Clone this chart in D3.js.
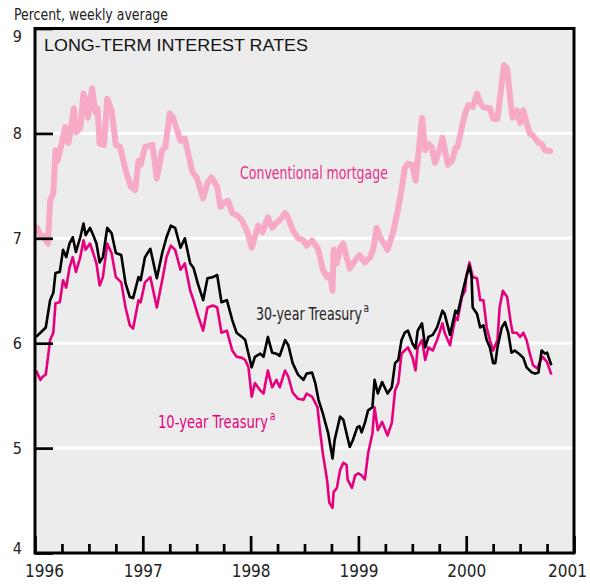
<!DOCTYPE html>
<html>
<head>
<meta charset="utf-8">
<script src="https://cdn.jsdelivr.net/npm/d3@7"></script>
<style>
  body { margin: 0; background: #fff; }
  .narrow { font-family: "Liberation Sans Narrow", "Arial Narrow", "DejaVu Sans Condensed", sans-serif; }
</style>
</head>
<body>
<svg width="590" height="584"></svg>
<script>
  // weekly averages as [year, percent]
  const mortgage = [
    [1996.02, 7.10], [1996.05, 7.03], [1996.08, 7.02], [1996.12, 6.95], [1996.14, 7.36],
    [1996.17, 7.43], [1996.19, 7.84], [1996.21, 7.74], [1996.24, 7.87], [1996.28, 8.06],
    [1996.31, 7.91], [1996.33, 8.03], [1996.36, 8.24], [1996.38, 8.01], [1996.42, 8.05],
    [1996.45, 8.38], [1996.47, 8.31], [1996.49, 8.15], [1996.53, 8.43], [1996.56, 8.20],
    [1996.58, 8.24], [1996.60, 7.90], [1996.64, 7.89], [1996.67, 8.33], [1996.71, 8.22],
    [1996.75, 7.89], [1996.79, 7.87], [1996.84, 7.65], [1996.89, 7.49], [1996.93, 7.46],
    [1996.96, 7.74], [1996.98, 7.70], [1997.02, 7.87], [1997.09, 7.89], [1997.13, 7.57],
    [1997.18, 7.84], [1997.21, 7.87], [1997.22, 7.96], [1997.25, 8.19], [1997.28, 8.15],
    [1997.35, 7.93], [1997.39, 7.95], [1997.46, 7.63], [1997.50, 7.58], [1997.56, 7.38],
    [1997.60, 7.53], [1997.64, 7.58], [1997.69, 7.49], [1997.72, 7.30], [1997.76, 7.34],
    [1997.79, 7.36], [1997.83, 7.24], [1997.87, 7.22], [1997.92, 7.17], [1997.97, 7.06],
    [1998.01, 6.91], [1998.07, 7.12], [1998.11, 7.06], [1998.16, 7.20], [1998.20, 7.10],
    [1998.24, 7.15], [1998.27, 7.17], [1998.32, 7.24], [1998.35, 7.19], [1998.39, 7.08],
    [1998.44, 7.00], [1998.49, 6.98], [1998.52, 6.93], [1998.57, 6.98], [1998.62, 6.91],
    [1998.64, 6.84], [1998.67, 6.70], [1998.71, 6.63], [1998.74, 6.65], [1998.76, 6.50],
    [1998.77, 6.89], [1998.80, 6.76], [1998.83, 6.91], [1998.86, 6.95], [1998.89, 6.82],
    [1998.92, 6.71], [1998.97, 6.79], [1999.01, 6.84], [1999.06, 6.77], [1999.11, 6.82],
    [1999.14, 6.91], [1999.17, 7.10], [1999.20, 7.01], [1999.25, 6.93], [1999.27, 6.89],
    [1999.32, 7.05], [1999.36, 7.24], [1999.40, 7.46], [1999.43, 7.67], [1999.46, 7.71],
    [1999.50, 7.70], [1999.53, 7.55], [1999.55, 7.74], [1999.59, 8.15], [1999.62, 7.84],
    [1999.65, 7.90], [1999.68, 7.87], [1999.71, 7.72], [1999.76, 7.87], [1999.78, 7.96],
    [1999.83, 7.70], [1999.87, 7.74], [1999.90, 7.86], [1999.92, 7.87], [1999.96, 8.06],
    [1999.99, 8.19], [2000.02, 8.27], [2000.06, 8.25], [2000.10, 8.38], [2000.13, 8.29],
    [2000.16, 8.25], [2000.22, 8.24], [2000.25, 8.14], [2000.29, 8.14], [2000.33, 8.48],
    [2000.35, 8.65], [2000.38, 8.62], [2000.41, 8.31], [2000.43, 8.15], [2000.47, 8.22],
    [2000.50, 8.10], [2000.53, 8.22], [2000.56, 8.10], [2000.59, 8.00], [2000.62, 7.98],
    [2000.67, 7.91], [2000.70, 7.90], [2000.73, 7.84], [2000.78, 7.83]
  ];

  const treasury30 = [
    [1996.01, 6.06], [1996.05, 6.10], [1996.10, 6.15], [1996.14, 6.41], [1996.17, 6.48],
    [1996.19, 6.67], [1996.23, 6.68], [1996.26, 6.89], [1996.29, 6.82], [1996.32, 6.95],
    [1996.35, 7.01], [1996.38, 6.87], [1996.42, 7.01], [1996.45, 7.14], [1996.47, 7.03],
    [1996.51, 7.10], [1996.54, 7.03], [1996.57, 6.95], [1996.60, 6.77], [1996.63, 6.82],
    [1996.67, 7.10], [1996.71, 7.05], [1996.75, 6.86], [1996.80, 6.84], [1996.84, 6.57],
    [1996.88, 6.44], [1996.91, 6.43], [1996.96, 6.63], [1996.98, 6.60], [1997.02, 6.82],
    [1997.07, 6.90], [1997.13, 6.62], [1997.18, 6.86], [1997.22, 7.01], [1997.26, 7.12],
    [1997.30, 7.10], [1997.35, 6.91], [1997.39, 7.00], [1997.44, 6.76], [1997.47, 6.72],
    [1997.51, 6.57], [1997.56, 6.41], [1997.60, 6.62], [1997.65, 6.63], [1997.69, 6.65],
    [1997.73, 6.39], [1997.78, 6.41], [1997.83, 6.22], [1997.87, 6.10], [1997.92, 6.06],
    [1997.95, 6.03], [1997.98, 5.90], [1998.01, 5.77], [1998.04, 5.87], [1998.09, 5.90],
    [1998.12, 5.87], [1998.16, 6.06], [1998.20, 5.91], [1998.24, 5.90], [1998.27, 5.88],
    [1998.32, 6.03], [1998.35, 5.98], [1998.39, 5.81], [1998.44, 5.70], [1998.49, 5.65],
    [1998.52, 5.71], [1998.57, 5.72], [1998.60, 5.62], [1998.63, 5.46], [1998.67, 5.33],
    [1998.72, 5.14], [1998.76, 4.90], [1998.78, 5.08], [1998.83, 5.30], [1998.86, 5.27],
    [1998.89, 5.14], [1998.92, 5.01], [1998.95, 5.08], [1998.99, 5.20], [1999.01, 5.21],
    [1999.03, 5.15], [1999.06, 5.24], [1999.09, 5.36], [1999.13, 5.39], [1999.15, 5.65],
    [1999.18, 5.52], [1999.22, 5.63], [1999.27, 5.52], [1999.31, 5.58], [1999.34, 5.81],
    [1999.37, 5.84], [1999.40, 6.03], [1999.43, 6.10], [1999.46, 6.12], [1999.50, 6.00],
    [1999.53, 5.95], [1999.55, 6.12], [1999.59, 6.19], [1999.62, 5.96], [1999.65, 6.06],
    [1999.69, 6.08], [1999.73, 6.15], [1999.78, 6.31], [1999.80, 6.28], [1999.85, 6.08],
    [1999.90, 6.31], [1999.92, 6.28], [1999.96, 6.46], [2000.00, 6.63], [2000.03, 6.74],
    [2000.05, 6.63], [2000.06, 6.34], [2000.10, 6.28], [2000.13, 6.15], [2000.16, 6.17],
    [2000.19, 6.03], [2000.22, 5.96], [2000.25, 5.81], [2000.27, 5.81], [2000.29, 5.96],
    [2000.33, 6.15], [2000.36, 6.20], [2000.39, 6.10], [2000.42, 5.91], [2000.45, 5.93],
    [2000.50, 5.89], [2000.53, 5.86], [2000.56, 5.77], [2000.61, 5.72], [2000.64, 5.71],
    [2000.67, 5.72], [2000.70, 5.93], [2000.73, 5.90], [2000.75, 5.91], [2000.79, 5.79]
  ];

  const treasury10 = [
    [1996.01, 5.74], [1996.05, 5.65], [1996.07, 5.68], [1996.10, 5.70], [1996.14, 6.03],
    [1996.17, 6.10], [1996.19, 6.38], [1996.23, 6.39], [1996.26, 6.60], [1996.29, 6.53],
    [1996.32, 6.72], [1996.35, 6.82], [1996.38, 6.68], [1996.42, 6.82], [1996.45, 6.98],
    [1996.47, 6.89], [1996.51, 6.95], [1996.54, 6.86], [1996.57, 6.76], [1996.60, 6.55],
    [1996.63, 6.63], [1996.67, 6.95], [1996.71, 6.86], [1996.75, 6.63], [1996.80, 6.58],
    [1996.84, 6.34], [1996.88, 6.17], [1996.91, 6.14], [1996.96, 6.41], [1996.98, 6.39],
    [1997.02, 6.58], [1997.07, 6.63], [1997.13, 6.34], [1997.18, 6.60], [1997.22, 6.82],
    [1997.26, 6.93], [1997.30, 6.89], [1997.35, 6.70], [1997.39, 6.76], [1997.44, 6.50],
    [1997.47, 6.41], [1997.51, 6.27], [1997.56, 6.12], [1997.60, 6.34], [1997.65, 6.36],
    [1997.69, 6.34], [1997.73, 6.10], [1997.78, 6.12], [1997.83, 5.93], [1997.87, 5.87],
    [1997.92, 5.86], [1997.95, 5.84], [1997.98, 5.77], [1998.01, 5.49], [1998.04, 5.62],
    [1998.09, 5.55], [1998.12, 5.52], [1998.16, 5.74], [1998.20, 5.58], [1998.24, 5.65],
    [1998.27, 5.58], [1998.32, 5.74], [1998.35, 5.68], [1998.39, 5.53], [1998.44, 5.47],
    [1998.49, 5.46], [1998.52, 5.52], [1998.57, 5.49], [1998.62, 5.39], [1998.64, 5.20],
    [1998.67, 4.95], [1998.71, 4.69], [1998.73, 4.48], [1998.76, 4.43], [1998.77, 4.58],
    [1998.80, 4.62], [1998.83, 4.79], [1998.86, 4.86], [1998.89, 4.84], [1998.90, 4.70],
    [1998.94, 4.62], [1998.97, 4.74], [1999.00, 4.76], [1999.03, 4.74], [1999.06, 4.70],
    [1999.09, 4.95], [1999.13, 5.14], [1999.15, 5.39], [1999.18, 5.17], [1999.22, 5.25],
    [1999.27, 5.12], [1999.31, 5.24], [1999.34, 5.55], [1999.37, 5.62], [1999.40, 5.90],
    [1999.43, 5.93], [1999.46, 5.96], [1999.50, 5.87], [1999.53, 5.74], [1999.55, 5.96],
    [1999.59, 6.03], [1999.62, 5.84], [1999.65, 5.96], [1999.69, 5.93], [1999.73, 6.03],
    [1999.78, 6.19], [1999.80, 6.10], [1999.85, 5.98], [1999.90, 6.25], [1999.92, 6.22],
    [1999.96, 6.44], [1999.99, 6.50], [2000.00, 6.63], [2000.03, 6.77], [2000.06, 6.63],
    [2000.10, 6.62], [2000.13, 6.41], [2000.16, 6.41], [2000.19, 6.15], [2000.22, 6.03],
    [2000.25, 5.93], [2000.29, 6.03], [2000.31, 6.34], [2000.34, 6.50], [2000.38, 6.44],
    [2000.41, 6.22], [2000.43, 6.10], [2000.47, 6.10], [2000.50, 6.06], [2000.53, 6.10],
    [2000.56, 6.03], [2000.59, 5.90], [2000.62, 5.79], [2000.66, 5.76], [2000.69, 5.84],
    [2000.71, 5.87], [2000.75, 5.82], [2000.79, 5.70]
  ];

  const years = [1996, 1997, 1998, 1999, 2000, 2001];
  const quarters = d3.range(1996.25, 2001, 0.25).filter((d) => d % 1 !== 0);
  const yTicks = [4, 5, 6, 7, 8, 9];
  const gridLines = [5, 6, 7, 8];

  const svg = d3.select("svg");
  const plot = { left: 35, right: 574, top: 28.5, bottom: 553 };

  const x = d3.scaleLinear().domain([1996, 2001]).range([plot.left, plot.right]);
  const y = d3.scaleLinear().domain([4, 9]).range([plot.bottom, plot.top]);

  // plot background
  svg.append("rect")
    .attr("x", plot.left).attr("y", plot.top)
    .attr("width", plot.right - plot.left).attr("height", plot.bottom - plot.top)
    .attr("fill", "#ececec");

  // white gridlines
  svg.selectAll(".grid")
    .data(gridLines)
    .enter()
    .append("line")
    .attr("x1", plot.left).attr("x2", plot.right)
    .attr("y1", (d) => y(d)).attr("y2", (d) => y(d))
    .attr("stroke", "#fff")
    .attr("stroke-width", 3);

  // lines
  const line = d3.line().x((d) => x(d[0])).y((d) => y(d[1]));

  svg.append("path").datum(mortgage)
    .attr("d", line).attr("fill", "none")
    .attr("stroke", "#f7aac8").attr("stroke-width", 6)
    .attr("stroke-linejoin", "round").attr("stroke-linecap", "round");

  svg.append("path").datum(treasury10)
    .attr("d", line).attr("fill", "none")
    .attr("stroke", "#e6007e").attr("stroke-width", 2.6)
    .attr("stroke-linejoin", "round");

  svg.append("path").datum(treasury30)
    .attr("d", line).attr("fill", "none")
    .attr("stroke", "#000").attr("stroke-width", 2.6)
    .attr("stroke-linejoin", "round");

  // frame
  svg.append("rect")
    .attr("x", plot.left).attr("y", plot.top)
    .attr("width", plot.right - plot.left).attr("height", plot.bottom - plot.top)
    .attr("fill", "none").attr("stroke", "#000").attr("stroke-width", 3);

  // x axis: year ticks and quarter ticks pointing inward
  const xAxis = svg.append("g")
    .attr("class", "narrow")
    .attr("transform", `translate(0,${plot.bottom})`)
    .call(d3.axisBottom(x).tickValues(years).tickSize(-17).tickPadding(12).tickFormat(d3.format("d")));
  svg.append("g")
    .attr("transform", `translate(0,${plot.bottom})`)
    .call(d3.axisBottom(x).tickValues(quarters).tickSize(-9).tickFormat(""));

  // y axis
  const yAxis = svg.append("g")
    .attr("class", "narrow")
    .attr("transform", `translate(${plot.left},0)`)
    .call(d3.axisLeft(y).tickValues(yTicks).tickSize(-18).tickPadding(13).tickFormat(d3.format("d")));

  svg.selectAll(".domain").remove();
  svg.selectAll(".tick line").attr("stroke", "#000").attr("stroke-width", 2.7);
  svg.selectAll(".tick text")
    .attr("fill", "#222")
    .style("font-family", "'Liberation Sans Narrow', 'Arial Narrow', 'DejaVu Sans Condensed', sans-serif");
  xAxis.selectAll(".tick text").style("font-size", "17px")
    .attr("dx", (d) => (d === 1996 ? 9 : d === 2001 ? -7 : 0));
  yAxis.selectAll(".tick text").style("font-size", "16px")
    .attr("dy", (d) => (d === 9 ? "0.82em" : d === 4 ? "0.05em" : "0.32em"));

  // titles
  svg.append("text")
    .attr("class", "narrow")
    .attr("x", 14).attr("y", 20)
    .attr("font-size", 15.5).attr("fill", "#222")
    .attr("textLength", 154).attr("lengthAdjust", "spacingAndGlyphs")
    .text("Percent, weekly average");

  svg.append("text")
    .attr("x", 44).attr("y", 51)
    .attr("font-family", "'Liberation Sans', Arial, sans-serif")
    .attr("font-size", 16.5).attr("fill", "#111")
    .attr("textLength", 264).attr("lengthAdjust", "spacingAndGlyphs")
    .text("LONG-TERM INTEREST RATES");

  // series labels, squeezed horizontally to the narrow face of the original
  const labels = [
    { text: "Conventional mortgage", x: 240, y: 179, w: 148, color: "#e8308c", sup: false },
    { text: "30-year Treasury", x: 256, y: 320, w: 106, color: "#222", sup: true },
    { text: "10-year Treasury", x: 158, y: 428, w: 110, color: "#e6007e", sup: true },
  ];
  labels.forEach((l) => {
    const t = svg.append("text")
      .attr("class", "narrow")
      .attr("font-size", 17.5).attr("fill", l.color);
    const main = t.append("tspan").text(l.text);
    if (l.sup) {
      t.append("tspan")
        .attr("dx", 2).attr("dy", -8)
        .attr("font-size", 12.5)
        .text("a");
    }
    const k = l.w / main.node().getComputedTextLength();
    t.attr("transform", `translate(${l.x},${l.y}) scale(${k},1)`);
  });
</script>
</body>
</html>
